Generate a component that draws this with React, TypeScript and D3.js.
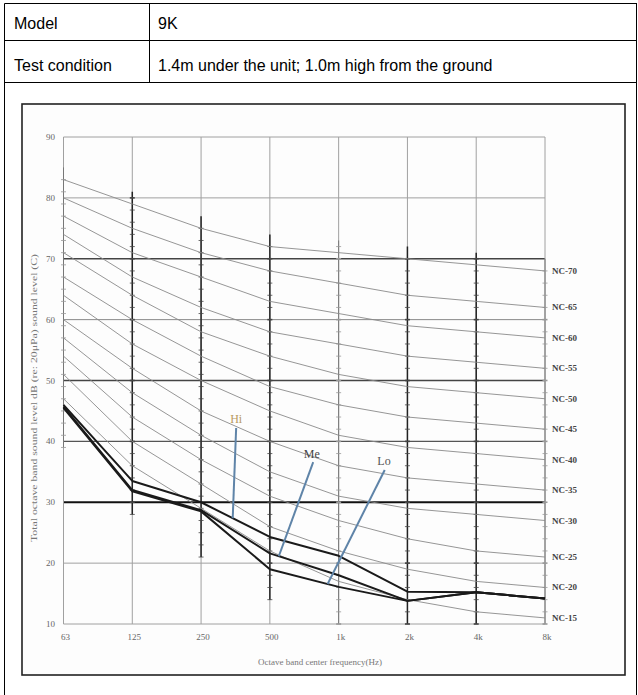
import React from "react";
import * as d3 from "d3";

// octave band centre frequencies
const frequencies = ["63", "125", "250", "500", "1k", "2k", "4k", "8k"];

// NC reference curves (dB per octave band)
const nc70 = [83, 79, 75, 72, 71, 70, 69, 68];
const nc65 = [80, 75, 71, 68, 66, 64, 63, 62];
const nc60 = [77, 71, 67, 63, 61, 59, 58, 57];
const nc55 = [74, 67, 62, 58, 56, 54, 53, 52];
const nc50 = [71, 64, 58, 54, 51, 49, 48, 47];
const nc45 = [67, 60, 54, 49, 46, 44, 43, 42];
const nc40 = [64, 56, 50, 45, 41, 39, 38, 37];
const nc35 = [60, 52, 45, 40, 36, 34, 33, 32];
const nc30 = [57, 48, 41, 35, 31, 29, 28, 27];
const nc25 = [54, 44, 37, 31, 27, 24, 22, 21];
const nc20 = [51, 40, 33, 26, 22, 19, 17, 16];
const nc15 = [47, 36, 29, 22, 17, 14, 12, 11];
const ncLabels = ["NC-70", "NC-65", "NC-60", "NC-55", "NC-50", "NC-45", "NC-40", "NC-35", "NC-30", "NC-25", "NC-20", "NC-15"];
const ncCurves = [nc70, nc65, nc60, nc55, nc50, nc45, nc40, nc35, nc30, nc25, nc20, nc15];

// measured levels for the three fan speeds
const hiLevels = [46, 33.5, 30, 24.3, 21.2, 15.3, 15.2, 14.2];
const meLevels = [45.7, 32, 28.7, 21.6, 18, 13.8, 15.2, 14.2];
const loLevels = [45.5, 31.8, 28.5, 19, 16.1, 13.8, 15.2, 14.2];
const seriesNames = ["Hi", "Me", "Lo"];

const yTicks = [10, 20, 30, 40, 50, 60, 70, 80, 90];

const W = 638;
const H = 695;
const plotLeft = 63.5;
const plotRight = 545;
const plotTop = 137;
const plotBottom = 624;

const x = d3.scalePoint<string>().domain(frequencies).range([plotLeft, plotRight]);
const xi = d3.scaleLinear().domain([0, frequencies.length - 1]).range([plotLeft, plotRight]);
const y = d3.scaleLinear().domain([10, 90]).range([plotBottom, plotTop]);

const lineGen = d3
  .line<number>()
  .x((_, i) => x(frequencies[i]) as number)
  .y((d) => y(d));

const interp = (vals: number[], t: number) => {
  const i = Math.min(Math.floor(t), vals.length - 2);
  const f = t - i;
  return vals[i] + (vals[i + 1] - vals[i]) * f;
};

// leader annotations: text pos (band index, dB), line top (index, dB), end index on series
const notes = [
  { label: "Hi", series: hiLevels, tx: 2.51, ty: 43.6, lx: 2.51, ly: 42.2, ex: 2.46, color: "#b89a60" },
  { label: "Me", series: meLevels, tx: 3.61, ty: 38.0, lx: 3.63, ly: 36.6, ex: 3.13, color: "#444" },
  { label: "Lo", series: loLevels, tx: 4.66, ty: 36.8, lx: 4.67, ly: 35.3, ex: 3.84, color: "#555" },
];

const strongBands = ["125", "250", "500", "2k", "4k"];

const hStyle = (v: number) => {
  if (v === 30) return { stroke: "#111", w: 2 };
  if (v === 70 || v === 50) return { stroke: "#444", w: 1.3 };
  if (v === 40) return { stroke: "#555", w: 1.1 };
  if (v === 60) return { stroke: "#888", w: 1 };
  return { stroke: "#a0a0a0", w: 1 };
};

const App = () => {
  const serif = "'Liberation Serif', 'DejaVu Serif', serif";
  return (
    <svg
      width={W}
      height={H}
      style={{ position: "absolute", left: 0, top: 0, background: "#fff" }}
      fontFamily="'Liberation Sans', Arial, sans-serif"
    >
      {/* table */}
      <g stroke="#000" strokeWidth={1} fill="none">
        <line x1={4.5} y1={3.5} x2={637} y2={3.5} />
        <line x1={4.5} y1={3.5} x2={4.5} y2={H} />
        <line x1={636.5} y1={3.5} x2={636.5} y2={H} />
        <line x1={4.5} y1={40.5} x2={637} y2={40.5} />
        <line x1={4.5} y1={82.5} x2={637} y2={82.5} />
        <line x1={149.5} y1={3.5} x2={149.5} y2={82.5} />
      </g>
      <g fontSize={16} fill="#000">
        <text x={14} y={29}>Model</text>
        <text x={158} y={29}>9K</text>
        <text x={14} y={71}>Test condition</text>
        <text x={158} y={71}>1.4m under the unit; 1.0m high from the ground</text>
      </g>

      {/* inner chart frame */}
      <rect x={22} y={104} width={603} height={571} fill="#fdfdfd" stroke="#222" strokeWidth={1.6} />

      {/* horizontal grid */}
      {yTicks.map((v) => {
        const s = hStyle(v);
        return (
          <line key={v} x1={plotLeft} x2={plotRight} y1={y(v)} y2={y(v)} stroke={s.stroke} strokeWidth={s.w} />
        );
      })}

      {/* vertical grid */}
      {frequencies.map((f, i) => {
        const strong = strongBands.includes(f);
        const top = y(Math.min(90, nc70[i] + 2));
        const bot = y(Math.max(10, nc15[i] - 8));
        const ticks = d3.range(Math.ceil(Math.max(10, nc15[i] - 8)), Math.min(90, nc70[i] + 2), 2);
        return (
          <g key={f}>
            <line x1={x(f)} x2={x(f)} y1={plotTop} y2={plotBottom} stroke="#a0a0a0" strokeWidth={1} />
            <line
              x1={x(f)}
              x2={x(f)}
              y1={top}
              y2={bot}
              stroke={strong ? "#222" : "#777"}
              strokeWidth={strong ? 1.5 : 1}
            />
            {ticks.map((t) => (
              <line
                key={t}
                x1={(x(f) as number) - 2.5}
                x2={(x(f) as number) + 2.5}
                y1={y(t)}
                y2={y(t)}
                stroke={strong ? "#444" : "#999"}
                strokeWidth={t % 10 === 0 ? 1.6 : 0.8}
              />
            ))}
          </g>
        );
      })}

      {/* NC curves */}
      {ncCurves.map((c, i) => (
        <g key={ncLabels[i]}>
          <path d={lineGen(c) as string} fill="none" stroke="#8a8a8a" strokeWidth={0.9} />
          <text
            x={plotRight + 7}
            y={y(c[c.length - 1]) + 3}
            fontFamily={serif}
            fontSize={9}
            fontWeight="bold"
            fill="#444"
          >
            {ncLabels[i]}
          </text>
        </g>
      ))}

      {/* measured series */}
      {[hiLevels, meLevels, loLevels].map((s, i) => (
        <path
          key={seriesNames[i]}
          d={lineGen(s) as string}
          fill="none"
          stroke="#1a1a1a"
          strokeWidth={2}
          strokeLinejoin="round"
        />
      ))}

      {/* leaders */}
      {notes.map((n) => (
        <g key={n.label}>
          <line
            x1={xi(n.lx)}
            y1={y(n.ly)}
            x2={xi(n.ex)}
            y2={y(interp(n.series, n.ex))}
            stroke="#5f84a8"
            strokeWidth={2}
          />
          <text
            x={xi(n.tx)}
            y={y(n.ty) + 4}
            textAnchor="middle"
            fontFamily={serif}
            fontSize={12}
            fill={n.color}
          >
            {n.label}
          </text>
        </g>
      ))}

      {/* y tick labels */}
      {yTicks.map((v) => (
        <text key={v} x={55} y={y(v) + 3} textAnchor="end" fontFamily={serif} fontSize={9} fill="#666">
          {v}
        </text>
      ))}

      {/* x tick labels */}
      {frequencies.map((f) => (
        <text
          key={f}
          x={(x(f) as number) + 2}
          y={640}
          textAnchor="middle"
          fontFamily={serif}
          fontSize={9}
          fill="#666"
        >
          {f}
        </text>
      ))}

      <text x={320} y={665} textAnchor="middle" fontFamily={serif} fontSize={9} fill="#777">
        Octave band center frequency(Hz)
      </text>
      <text
        transform="translate(37,398) rotate(-90)"
        textAnchor="middle"
        fontFamily={serif}
        fontSize={9}
        fill="#777"
        textLength={288}
        lengthAdjust="spacingAndGlyphs"
      >
        Total octave band sound level dB (re: 20μPa) sound level (C)
      </text>
    </svg>
  );
};

export default App;
